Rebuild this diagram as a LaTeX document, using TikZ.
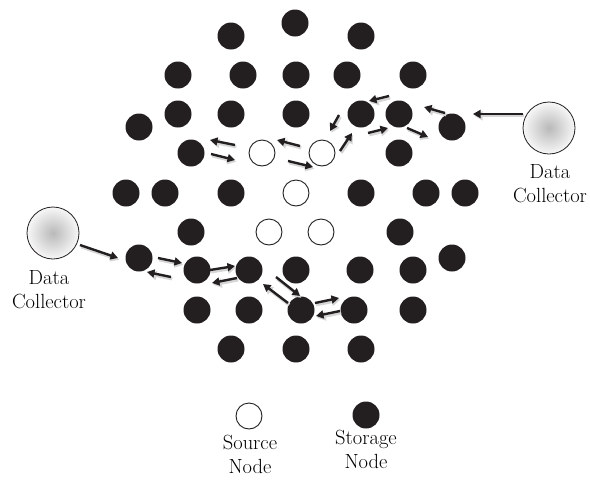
\documentclass[tikz,border=0pt]{standalone}
\usepackage{fontspec}
\usetikzlibrary{arrows.meta}
\definecolor{ink}{HTML}{231F20}
\newcommand\myarrow[4]{%
  \draw[arrshadow] ([shift={(#2)}]#1.center) -- ([shift={(#4)}]#3.center);
  \draw[arr] ([shift={(#2)}]#1.center) -- ([shift={(#4)}]#3.center);}
\begin{document}
\begin{tikzpicture}[x=1pt,y=-1pt,
  stor/.style={circle,fill=ink,minimum size=27pt,inner sep=0pt},
  src/.style={circle,draw=ink,line width=0.9pt,fill=white,minimum size=26pt,inner sep=0pt},
  dc/.style={circle,draw=ink,line width=0.8pt,minimum size=52pt,inner sep=0pt,inner color=gray!55,outer color=gray!6},
  arr/.style={draw=ink,line width=2.4pt,-{Triangle[length=7.5pt,width=8pt]}},
  arrshadow/.style={draw=black!16,line width=3.2pt,-{Triangle[length=8.5pt,width=9pt]},transform canvas={shift={(1.2,1.8)}}},
  lbl/.style={align=center,inner sep=0pt,anchor=north,font=\fontsize{20.5}{24}\selectfont}]
\fill[white] (0,0) rectangle (590,480);
\useasboundingbox (0,0) rectangle (590,480);
% storage nodes
\node[stor] (t1) at (295,23) {};
\node[stor] (t2a) at (231,36) {};
\node[stor] (t2b) at (361,36) {};
\node[stor] (a1) at (178,75) {};
\node[stor] (a2) at (243,75) {};
\node[stor] (a3) at (296,75) {};
\node[stor] (a4) at (347,75) {};
\node[stor] (a5) at (413,75) {};
\node[stor] (b1) at (178,114) {};
\node[stor] (b2) at (231,114) {};
\node[stor] (b3) at (296,114) {};
\node[stor] (b4) at (361,114) {};
\node[stor] (b5) at (399,114) {};
\node[stor] (c1) at (139,127) {};
\node[stor] (c2) at (452,127) {};
\node[stor] (d1) at (191,153) {};
\node[stor] (d2) at (399,153) {};
\node[stor] (e1) at (126,193) {};
\node[stor] (e2) at (165,193) {};
\node[stor] (e3) at (231,193) {};
\node[stor] (e4) at (361,193) {};
\node[stor] (e5) at (426,193) {};
\node[stor] (e6) at (465,193) {};
\node[stor] (f1) at (191,232) {};
\node[stor] (f2) at (400,232) {};
\node[stor] (g1) at (139,258) {};
\node[stor] (g2) at (452,258) {};
\node[stor] (h1) at (197,270) {};
\node[stor] (h2) at (249,270) {};
\node[stor] (h3) at (296,270) {};
\node[stor] (h4) at (360,270) {};
\node[stor] (h5) at (413,270) {};
\node[stor] (i1) at (197,310) {};
\node[stor] (i2) at (249,310) {};
\node[stor] (i3) at (301,310) {};
\node[stor] (i4) at (354,310) {};
\node[stor] (i5) at (413,310) {};
\node[stor] (j1) at (231,349) {};
\node[stor] (j2) at (296,349) {};
\node[stor] (j3) at (361,349) {};
% source nodes
\node[src] (s1) at (262,153) {};
\node[src] (s2) at (322,153) {};
\node[src] (s3) at (296,193) {};
\node[src] (s4) at (269,232) {};
\node[src] (s5) at (321,232) {};
% data collectors
\node[dc] (dcR) at (549,128) {};
\node[dc] (dcL) at (53,233) {};
\node[lbl] (dcRt) at (550,164) {Data\\Collector};
\node[lbl] (dcLt) at (49,270) {Data\\Collector};
% legend
\node[src] (legS) at (249,416) {};
\node[stor] (legT) at (366,415) {};
\node[lbl] (legSt) at (250,435) {Source\\Node};
\node[lbl] (legTt) at (366,430) {Storage\\Node};
% arrows, upper path
\myarrow{dcR}{-26,-14}{c2}{21,-13}
\myarrow{c2}{-7,-14}{b5}{25,-7}
\myarrow{b5}{8,14}{c2}{-24,10}
\myarrow{b4}{7,19}{b5}{-11,14}
\myarrow{b5}{-10,-18}{b4}{8,-13}
\myarrow{s2}{18,-2}{b4}{-9,19}
\myarrow{b4}{-22,1}{s2}{8,-22}
\myarrow{s2}{-22,-7}{s1}{15,-13}
\myarrow{s1}{26,8}{s2}{-9,14}
\myarrow{s1}{-27,-8}{d1}{19,-13}
\myarrow{d1}{20,1}{s1}{-27,7}
% arrows, lower path
\myarrow{dcL}{27,12}{g1}{-21,0}
\myarrow{g1}{19,0}{h1}{-15,-7}
\myarrow{h1}{-26,7}{g1}{8,14}
\myarrow{h1}{13,0}{h2}{-14,-4}
\myarrow{h2}{-12,8}{h1}{15,13}
\myarrow{h2}{27,7}{i3}{-1,-14}
\myarrow{i3}{-13,-7}{h2}{14,14}
\myarrow{i3}{14,-7}{i4}{-15,-12}
\myarrow{i4}{-14,1}{i3}{15,6}
\end{tikzpicture}
\end{document}
